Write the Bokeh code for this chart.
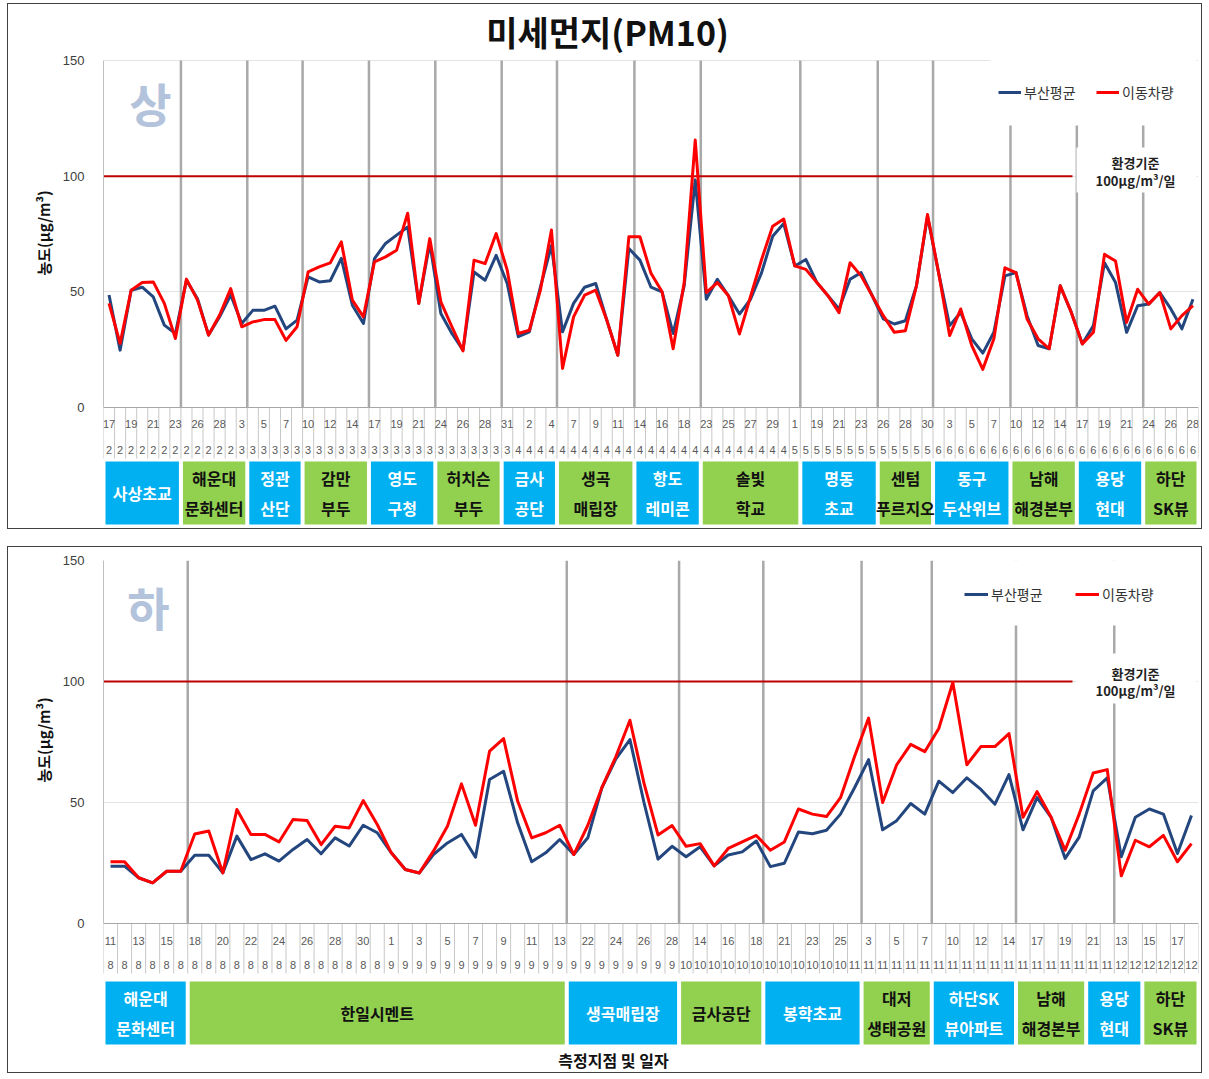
from bokeh.plotting import figure
from bokeh.models import FixedTicker, Legend, LegendItem, Range1d, Spacer, Title
from bokeh.layouts import column, row
from bokeh.embed import file_html
from bokeh.resources import INLINE
from bokeh.core.properties import value

KR = "Noto Sans CJK KR"
NUM = "Liberation Sans"

# ---------------- data: upper chart (상) ----------------
top_busan = [
    48.6, 24.8, 50.7, 52.0, 47.8, 35.6, 32.0, 55.0, 47.0, 31.3,
    39.2, 48.6, 36.3, 42.0, 42.0, 43.8, 34.0, 37.8, 56.5, 54.3,
    54.8, 64.5, 44.2, 36.3, 64.4, 70.9, 74.5, 78.0, 45.0, 71.0,
    40.6, 32.0, 24.8, 58.6, 55.0, 65.8, 53.6, 30.6, 32.7, 52.0,
    70.0, 32.7, 45.0, 52.0, 53.6, 37.8, 22.6, 68.7, 63.7, 52.0,
    50.0, 32.0, 52.6, 98.4, 46.8, 55.4, 48.3, 40.4, 46.8, 58.3,
    74.0, 79.5, 61.2, 64.0, 54.0, 48.3, 42.6, 55.4, 58.3, 48.3,
    38.3, 36.1, 37.5, 52.6, 82.7, 58.3, 35.4, 41.1, 29.7, 23.5,
    32.5, 56.9, 58.3, 39.7, 26.8, 25.4, 52.6, 41.1, 27.5, 35.4,
    62.6, 54.0, 32.5, 44.0, 44.7, 49.7, 42.6, 34.0, 46.8]
top_mobile = [
    45.0, 27.7, 50.7, 54.0, 54.3, 45.0, 29.8, 55.5, 46.4, 31.3,
    40.0, 51.4, 34.9, 37.0, 38.0, 38.0, 29.0, 34.9, 58.6, 60.8,
    62.5, 71.6, 46.4, 39.2, 63.0, 65.1, 68.0, 84.0, 45.0, 73.0,
    45.7, 34.9, 24.5, 63.7, 62.2, 75.2, 59.4, 32.0, 33.4, 50.7,
    76.7, 16.9, 39.2, 48.6, 50.7, 37.8, 22.6, 73.8, 73.8, 58.0,
    50.0, 25.4, 54.0, 115.6, 49.7, 54.0, 48.3, 31.8, 48.0, 64.0,
    78.4, 81.5, 61.2, 59.7, 54.0, 48.3, 41.0, 62.6, 56.9, 48.3,
    39.7, 32.5, 33.2, 52.6, 83.4, 58.3, 31.1, 42.6, 26.8, 16.5,
    29.7, 60.4, 58.3, 38.3, 29.7, 25.4, 52.6, 41.1, 27.5, 32.5,
    66.2, 63.3, 36.8, 51.1, 44.7, 49.7, 34.0, 39.7, 44.0]
# day labels shown on every second category
top_days = [17, 19, 21, 23, 26, 28, 3, 5, 7, 10, 12, 14, 17, 19, 21, 24, 26, 28, 31, 2,
            4, 7, 9, 11, 14, 16, 18, 23, 25, 27, 29, 1, 19, 21, 23, 26, 28, 30, 3, 5,
            7, 10, 12, 14, 17, 19, 21, 24, 26, 28]
top_months = [2] * 12 + [3] * 25 + [4] * 25 + [5] * 13 + [6] * 24
top_sites = ["사상초교", "해운대\n문화센터", "정관\n산단", "감만\n부두", "영도\n구청", "허치슨\n부두",
             "금사\n공단", "생곡\n매립장", "항도\n레미콘", "솔빛\n학교", "명동\n초교", "센텀\n푸르지오",
             "동구\n두산위브", "남해\n해경본부", "용당\n현대", "하단\nSK뷰"]
top_site_edges = [0, 7, 13, 18, 24, 30, 36, 41, 48, 54, 63, 70, 75, 82, 88, 94, 99]
top_separators = [7, 13, 18, 24, 30, 36, 41, 48, 54, 63, 70, 75, 82, 88, 94]

# ---------------- data: lower chart (하) ----------------
bot_busan = [
    23.7, 23.7, 18.9, 16.8, 21.6, 21.6, 28.2, 28.2, 20.9, 36.1,
    26.4, 28.8, 25.8, 30.6, 34.7, 28.8, 35.4, 32.0, 40.6, 37.5,
    29.2, 22.3, 20.9, 28.5, 33.3, 36.8, 27.4, 59.5, 62.9, 41.6,
    25.5, 29.2, 34.7, 28.5, 35.4, 56.1, 68.0, 76.0, 50.0, 26.6,
    31.9, 27.6, 31.7, 23.8, 28.3, 29.6, 34.1, 23.5, 24.9, 37.8,
    37.1, 38.5, 45.2, 56.1, 67.7, 38.7, 42.5, 49.6, 45.2, 58.8,
    54.1, 60.2, 55.4, 49.3, 61.5, 38.7, 52.0, 43.9, 26.9, 35.7,
    54.8, 60.2, 27.6, 43.9, 47.3, 45.2, 28.9, 44.6]
bot_mobile = [
    25.5, 25.5, 18.9, 16.8, 21.6, 21.6, 37.0, 38.2, 20.9, 47.1,
    36.8, 36.8, 33.7, 43.0, 42.6, 32.6, 40.2, 39.5, 50.8, 40.9,
    29.2, 22.3, 20.9, 29.9, 40.2, 57.7, 40.6, 71.2, 76.4, 50.6,
    35.4, 37.5, 40.6, 28.5, 40.6, 56.1, 69.0, 84.0, 58.0, 36.6,
    40.5, 31.9, 33.0, 23.8, 31.0, 33.7, 36.4, 30.3, 33.7, 47.3,
    45.2, 44.2, 52.0, 69.0, 84.9, 50.0, 65.6, 74.0, 71.0, 80.6,
    99.6, 65.6, 73.1, 73.1, 78.5, 43.9, 54.5, 43.9, 30.3, 45.2,
    62.2, 63.6, 19.7, 34.4, 31.7, 36.4, 25.5, 33.0]
bot_days = [11, 13, 15, 18, 20, 22, 24, 26, 28, 30, 1, 3, 5, 7, 9, 11, 13, 22, 24, 26,
            28, 14, 16, 18, 21, 23, 25, 3, 5, 7, 10, 12, 14, 17, 19, 21, 13, 15, 17]
bot_months = [8] * 20 + [9] * 21 + [10] * 12 + [11] * 19 + [12] * 6
bot_sites = ["해운대\n문화센터", "한일시멘트", "생곡매립장", "금사공단", "봉학초교", "대저\n생태공원",
             "하단SK\n뷰아파트", "남해\n해경본부", "용당\n현대", "하단\nSK뷰"]
bot_site_edges = [0, 6, 33, 41, 47, 54, 59, 65, 70, 74, 78]
bot_separators = [6, 33, 41, 47, 54, 59, 65, 72]

standard = 100
series_names = ["부산평균", "이동차량"]

BLUE = "#24467E"
RED = "#FF0000"
BOX_COLORS = ["#00B0F0", "#92D050"]
BOX_TEXT = ["white", "#111111"]

FRAME_L, FRAME_R, CANVAS_L = 103, 1198, 8
WIDTH = 1195


def build(busan, mobile, days, months, sites, edges, seps, g):
    n = len(busan)
    cw = (FRAME_R - FRAME_L) / n
    ppu = (g["zero"] - g["top"]) / 150.0
    xd = lambda px: (px - FRAME_L) / cw - 0.5
    yd = lambda py: (g["zero"] - py) / ppu
    fbot = g["ctop"] + g["h"]
    y0 = yd(fbot)
    y1 = yd(g["ftop"])

    p = figure(width=WIDTH, height=g["h"], x_range=Range1d(-0.5, n - 0.5), y_range=Range1d(y0, y1),
               output_backend="svg", toolbar_location=None,
               min_border_left=FRAME_L - CANVAS_L, min_border_right=CANVAS_L + WIDTH - FRAME_R,
               min_border_top=g["ftop"] - g["ctop"], min_border_bottom=0,
               styles={"border": "1px solid #404040"})
    p.outline_line_color = None
    p.background_fill_color = "white"
    p.xaxis.visible = False
    p.xgrid.visible = False
    p.ygrid.ticker = FixedTicker(ticks=[50, 100, 150])
    p.ygrid.grid_line_color = "#E3E3E3"
    ax = p.yaxis[0]
    ax.ticker = FixedTicker(ticks=[0, 50, 100, 150])
    ax.bounds = (0, 150)
    ax.axis_line_color = "#BFBFBF"
    ax.major_tick_line_color = None
    ax.minor_tick_line_color = None
    ax.major_label_text_font = NUM
    ax.major_label_text_font_size = "13px"
    ax.major_label_text_color = "#404040"
    ax.major_label_standoff = 13

    # y-axis title placed over the 0-150 value span
    p.add_layout(Title(text="농도(μg/m³)", align="left", offset=g["ytitle_offset"], standoff=12,
                       text_font=KR, text_font_style="bold", text_font_size="15px",
                       text_color="#111111"), "left")

    xs = list(range(n))
    # category cells of the label rows
    b = [i - 0.5 for i in range(n + 1)]
    p.segment(x0=b, y0=[0] * len(b), x1=b, y1=[yd(g["rowbot"])] * len(b), line_color="#C8C8C8", line_width=1)
    p.segment(x0=[-0.5], y0=[0], x1=[n - 0.5], y1=[0], line_color="#A6A6A6", line_width=1)
    # station separators
    sx = [s - 0.5 for s in seps]
    p.segment(x0=sx, y0=[0] * len(sx), x1=sx, y1=[150] * len(sx), line_color="#A9A9A9", line_width=2.5)
    # environmental standard
    p.segment(x0=[-0.5], y0=[standard], x1=[xd(1072)], y1=[standard], line_color="#C00000", line_width=2)
    # white backgrounds of the note and legend text boxes
    lg = g["legend"]
    p.quad(left=[xd(1076), xd(lg["left"] - 8)], right=[xd(1196), xd(1196)],
           top=[yd(g["note_top"]), yd(g["top"] - 1)], bottom=[yd(g["note_bot"]), yd(g["top"] + 65)],
           fill_color="white", line_color=None)

    rb = p.line(xs, busan, line_color=BLUE, line_width=3, line_join="round")
    rr = p.line(xs, mobile, line_color=RED, line_width=3, line_join="round")

    # day / month rows
    p.text(x=[2 * k for k in range(len(days))], y=[yd(g["day"])] * len(days), text=[str(d) for d in days],
           text_font=value(NUM), text_font_size="11px", text_color="#595959",
           text_align="center", text_baseline="middle")
    p.text(x=xs, y=[yd(g["month"])] * n, text=[str(m) for m in months],
           text_font=value(NUM), text_font_size="11px", text_color="#595959",
           text_align="center", text_baseline="middle")

    # site boxes
    gap = 2.0 / cw
    L = [edges[k] - 0.5 + gap for k in range(len(sites))]
    R = [edges[k + 1] - 0.5 - gap for k in range(len(sites))]
    cols = [BOX_COLORS[k % 2] for k in range(len(sites))]
    tcols = [BOX_TEXT[k % 2] for k in range(len(sites))]
    p.quad(left=L, right=R, top=[yd(g["boxtop"])] * len(sites), bottom=[yd(g["boxbot"])] * len(sites),
           fill_color=cols, line_color=None)
    p.text(x=[(l + r) / 2 for l, r in zip(L, R)], y=[yd((g["boxtop"] + g["boxbot"]) / 2)] * len(sites),
           text=sites, text_font=value(KR), text_font_style="bold", text_font_size="16px",
           text_color=tcols, text_align="center", text_baseline="middle", text_line_height=1.25)

    # standard note
    p.text(x=[xd(1135)] * 2, y=[yd(g["note1"]), yd(g["note2"])], text=["환경기준", "100μg/m³/일"],
           text_font=value(KR), text_font_style="bold", text_font_size="13px", text_color="#222222",
           text_align="center", text_baseline="middle")
    # big mark
    p.text(x=[xd(g["mark"][0])], y=[yd(g["mark"][1])], text=[g["mark_text"]],
           text_font=value(KR), text_font_style="bold", text_font_size="46px", text_color="#B3C3DB",
           text_align="center", text_baseline="middle")
    if g.get("title"):
        p.text(x=[xd(607)], y=[yd(31)], text=[g["title"]], text_font=value(KR),
               text_font_style="bold", text_font_size="34px", text_color="#111111",
               text_align="center", text_baseline="middle")
    if g.get("xtitle"):
        p.text(x=[xd(613)], y=[yd(g["xtitle_y"])], text=[g["xtitle"]], text_font=value(KR),
               text_font_style="bold", text_font_size="16px", text_color="#111111",
               text_align="center", text_baseline="middle")

    leg = Legend(items=[LegendItem(label=series_names[0], renderers=[rb]),
                        LegendItem(label=series_names[1], renderers=[rr])],
                 orientation="horizontal",
                 location=(lg["left"] - FRAME_L, fbot - lg["bottom"]),
                 padding=20, spacing=lg["spacing"], label_standoff=3, glyph_width=lg["gw"], glyph_height=20,
                 label_width=lg["lw"],
                 label_text_font=KR, label_text_font_size="14px", label_text_color="#333333",
                 border_line_color=None, background_fill_color="white", background_fill_alpha=1.0, margin=0)
    p.add_layout(leg)
    return p


g_top = dict(ctop=4, h=526, ftop=4, top=60, zero=407, day=423, month=449, rowbot=458,
             boxtop=461, boxbot=524, note_top=147, note_bot=192, note1=162, note2=180,
             mark=(150, 101), mark_text="상", title="미세먼지(PM10)", ytitle_offset=255,
             legend=dict(left=998, bottom=102, spacing=14, gw=23, lw=58))
g_bot = dict(ctop=549, h=527, ftop=562, top=562, zero=925, day=942, month=966, rowbot=975,
             boxtop=983, boxbot=1046, note_top=655, note_bot=705, note1=675, note2=692,
             mark=(148, 607), mark_text="하", xtitle="측정지점 및 일자", xtitle_y=1061, ytitle_offset=292,
             legend=dict(left=964, bottom=606, spacing=26, gw=24, lw=58))

p1 = build(top_busan, top_mobile, top_days, top_months, top_sites, top_site_edges, top_separators, g_top)
p2 = build(bot_busan, bot_mobile, bot_days, bot_months, bot_sites, bot_site_edges, bot_separators, g_bot)

page = column(Spacer(height=3), row(Spacer(width=7), p1), Spacer(height=17), row(Spacer(width=7), p2))
open("out.html", "w").write(file_html(page, INLINE))
